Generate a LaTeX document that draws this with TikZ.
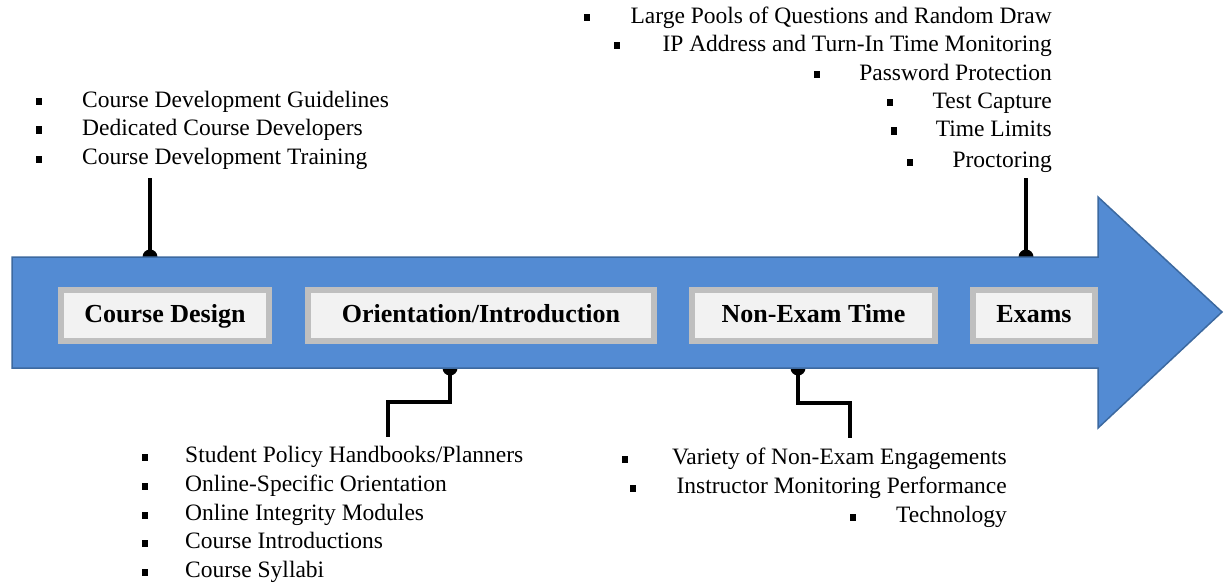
\documentclass[tikz,border=0pt]{standalone}
\usepackage{fontspec}
\setmainfont{Liberation Serif}
\newfontfamily\tnr{Liberation Serif}
\definecolor{arrowblue}{RGB}{83,139,211}
\definecolor{arrowedge}{RGB}{60,105,160}
\definecolor{boxfill}{RGB}{242,242,242}
\definecolor{boxedge}{RGB}{191,191,191}
\begin{document}
\begin{tikzpicture}[x=1pt,y=-1pt,
  stagebox/.style={draw=boxedge,line width=6pt,fill=boxfill,minimum height=51pt,inner sep=0pt,
    text height=18pt,text depth=4pt,
    font=\tnr\fontsize{26}{30}\selectfont\bfseries,text=black},
  itemtext/.style={font=\tnr\fontsize{23.5}{28}\selectfont,inner sep=0pt,yshift=-3pt},
  itemL/.style={itemtext,anchor=mid west},
  itemR/.style={itemtext,anchor=mid east},
  bul/.style={fill=black,minimum width=6pt,minimum height=7pt,inner sep=0pt},
  dot/.style={circle,fill=black,minimum size=15pt,inner sep=0pt},
  conn/.style={line width=3.2pt,black}]
\useasboundingbox (0,0) rectangle (1225,583);
% connector dots (under the arrow)
\node[dot] (cdd) at (150,257) {};
\node[dot] (exd) at (1026,257) {};
\node[dot] (oid) at (450,368) {};
\node[dot] (ned) at (798,368) {};
\coordinate (cdt) at (150,178);
\coordinate (ext) at (1026,178);
\coordinate (oie) at (388,437);
\coordinate (nee) at (850,438);
\draw[conn] (cdt) -- (cdd.center);
\draw[conn] (ext) -- (exd.center);
\draw[conn] (oid.center) |- (419,402) -| (oie);
\draw[conn] (ned.center) |- (824,403) -| (nee);
% arrow
\draw[arrowedge,line width=1.5pt,fill=arrowblue,line join=miter]
  (12,257) -- (1098,257) -- (1098,197) -- (1222,312) -- (1098,428) -- (1098,368) -- (12,368) -- cycle;
% stage boxes
\node[stagebox,minimum width=208pt] (cd) at (165,315.5) {Course Design};
\node[stagebox,minimum width=346pt] (oi) at (481,315.5) {Orientation/Introduction};
\node[stagebox,minimum width=243pt] (ne) at (813.5,315.5) {Non-Exam Time};
\node[stagebox,minimum width=122pt] (ex) at (1034,315.5) {Exams};
% top-left list
\node[bul] (b1) at (39,102) {}; \node[itemL] (t1) at (82,102) {Course Development Guidelines};
\node[bul] (b2) at (39,130) {}; \node[itemL] (t2) at (82,130) {Dedicated Course Developers};
\node[bul] (b3) at (39,159) {}; \node[itemL] (t3) at (82,159) {Course Development Training};
% top-right list
\node[bul] (b4) at (587,18) {}; \node[itemR] (t4) at (1052,18) {Large Pools of Questions and Random Draw};
\node[bul] (b5) at (617,46) {}; \node[itemR] (t5) at (1052,46) {IP Address and Turn-In Time Monitoring};
\node[bul] (b6) at (817,75) {}; \node[itemR] (t6) at (1052,75) {Password Protection};
\node[bul] (b7) at (890,103) {}; \node[itemR] (t7) at (1052,103) {Test Capture};
\node[bul] (b8) at (894,131) {}; \node[itemR] (t8) at (1052,131) {Time Limits};
\node[bul] (b9) at (910,162) {}; \node[itemR] (t9) at (1052,162) {Proctoring};
% bottom-left list
\node[bul] (b10) at (145,457) {}; \node[itemL] (t10) at (185,457) {Student Policy Handbooks/Planners};
\node[bul] (b11) at (145,486) {}; \node[itemL] (t11) at (185,486) {Online-Specific Orientation};
\node[bul] (b12) at (145,515) {}; \node[itemL] (t12) at (185,515) {Online Integrity Modules};
\node[bul] (b13) at (145,543) {}; \node[itemL] (t13) at (185,543) {Course Introductions};
\node[bul] (b14) at (145,572) {}; \node[itemL] (t14) at (185,572) {Course Syllabi};
% bottom-right list
\node[bul] (b15) at (625,459) {}; \node[itemR] (t15) at (1007,459) {Variety of Non-Exam Engagements};
\node[bul] (b16) at (633,488) {}; \node[itemR] (t16) at (1007,488) {Instructor Monitoring Performance};
\node[bul] (b17) at (853,517) {}; \node[itemR] (t17) at (1007,517) {Technology};
\end{tikzpicture}
\end{document}
